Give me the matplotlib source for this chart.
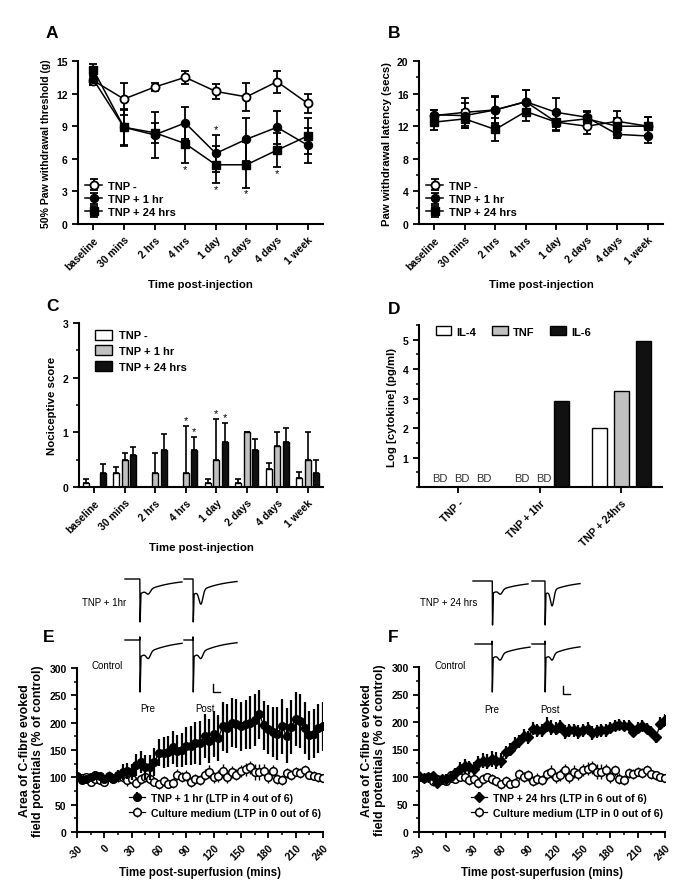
import numpy as np
import matplotlib
matplotlib.use("Agg")
import matplotlib.pyplot as plt
from matplotlib.ticker import MultipleLocator

plt.rcParams['font.family'] = ['Liberation Sans', 'DejaVu Sans']
plt.rcParams['font.weight'] = 'bold'
plt.rcParams['axes.labelweight'] = 'bold'
plt.rcParams['axes.linewidth'] = 1.5
plt.rcParams['xtick.major.width'] = 1.3
plt.rcParams['ytick.major.width'] = 1.3
plt.rcParams['xtick.minor.width'] = 1.1
plt.rcParams['ytick.minor.width'] = 1.1

# ---------------- data ----------------
timepoints = ['baseline', '30 mins', '2 hrs', '4 hrs', '1 day', '2 days', '4 days', '1 week']

a_tnp_minus = [13.2, 11.5, 12.6, 13.5, 12.2, 11.7, 13.1, 11.1]
a_tnp_minus_err = [0.4, 1.5, 0.4, 0.6, 0.7, 1.3, 1.0, 0.9]
a_tnp_1hr = [13.3, 8.9, 8.2, 9.3, 6.5, 7.8, 8.9, 7.25]
a_tnp_1hr_err = [0.5, 1.6, 2.1, 1.5, 1.7, 2.0, 1.5, 1.6]
a_tnp_24 = [14.2, 8.9, 8.4, 7.4, 5.45, 5.45, 6.8, 8.1]
a_tnp_24_err = [0.5, 1.7, 0.9, 1.8, 1.7, 2.1, 1.6, 1.7]

b_tnp_minus = [13.3, 13.7, 14.0, 15.0, 12.5, 12.0, 12.6, 12.0]
b_tnp_minus_err = [0.7, 1.7, 1.6, 1.5, 1.0, 0.9, 1.3, 1.1]
b_tnp_1hr = [13.4, 13.3, 14.0, 15.0, 13.7, 13.1, 11.0, 10.8]
b_tnp_1hr_err = [0.6, 1.5, 1.7, 1.5, 1.8, 0.8, 0.5, 0.9]
b_tnp_24 = [12.5, 12.9, 11.6, 13.8, 12.5, 12.9, 12.0, 12.0]
b_tnp_24_err = [1.0, 1.1, 1.4, 1.2, 1.1, 0.8, 1.0, 1.1]

c_tnp_minus = [0.08, 0.25, 0.0, 0.0, 0.08, 0.08, 0.33, 0.17]
c_tnp_minus_err = [0.07, 0.11, 0.0, 0.0, 0.07, 0.07, 0.10, 0.10]
c_tnp_1hr = [0.0, 0.5, 0.25, 0.25, 0.5, 1.0, 0.75, 0.5]
c_tnp_1hr_err = [0.0, 0.12, 0.37, 0.87, 0.75, 0.0, 0.25, 0.5]
c_tnp_24 = [0.25, 0.58, 0.67, 0.67, 0.83, 0.67, 0.83, 0.25]
c_tnp_24_err = [0.17, 0.15, 0.30, 0.25, 0.34, 0.21, 0.25, 0.25]

d_groups = ['TNP -', 'TNP + 1hr', 'TNP + 24hrs']
d_il4 = [np.nan, np.nan, 2.0]
d_tnf = [np.nan, np.nan, 3.27]
d_il6 = [np.nan, 2.93, 4.94]

ltp_time = list(range(-30, 245, 5))
e_tnp_1hr = [103, 95, 97, 100, 105, 102, 97,
             100, 98, 104, 110, 112, 110,
             122, 128, 118, 118, 128,
             145, 145, 147, 155, 148, 150,
             157, 158, 163, 163, 175, 167,
             180, 172, 193, 190, 200, 198,
             193, 197, 200, 205, 215, 195,
             188, 183, 180, 193, 176, 192,
             207, 203, 190, 177, 180, 190, 193]
e_tnp_1hr_err = [5, 5, 6, 6, 6, 6, 6,
                 8, 8, 10, 15, 15, 15,
                 20, 20, 22, 22, 25,
                 25, 28, 28, 30, 30, 32,
                 35, 35, 38, 40, 40, 40,
                 42, 42, 45, 45, 45, 45,
                 45, 45, 48, 48, 45, 45,
                 45, 45, 48, 50, 50, 50,
                 50, 50, 48, 45, 45, 45, 45]
culture = [100, 98, 100, 92, 97, 95, 92,
           103, 97, 100, 100, 95, 97,
           90, 97, 100, 97, 92,
           87, 93, 88, 90, 105, 100,
           103, 92, 97, 95, 105, 110,
           100, 103, 112, 100, 110, 105,
           112, 115, 118, 110, 110, 112,
           100, 112, 97, 95, 108, 105,
           110, 108, 113, 105, 103, 100, 98]
culture_err = [6, 7, 6, 8, 7, 8, 7,
               8, 7, 8, 9, 10, 9,
               10, 9, 8, 9, 8,
               8, 9, 8, 9, 10, 9,
               10, 9, 10, 9, 10, 12,
               10, 11, 12, 10, 11, 10,
               11, 12, 12, 14, 14, 12,
               11, 10, 10, 9, 9, 9,
               8, 9, 9, 8, 8, 8, 8]
f_tnp_24 = [102, 98, 100, 102, 90, 97, 97,
            100, 107, 115, 120, 118, 115,
            125, 130, 128, 133, 130,
            130, 145, 150, 160, 165, 175,
            172, 188, 185, 185, 195, 190,
            188, 192, 182, 185, 185, 182,
            185, 188, 180, 183, 185, 185,
            190, 193, 195, 193, 193, 182,
            190, 193, 188, 182, 172, 197, 203]
f_tnp_24_err = [6, 6, 6, 7, 7, 7, 8,
                9, 10, 12, 12, 12, 12,
                14, 14, 14, 15, 15,
                14, 12, 12, 12, 12, 12,
                12, 12, 12, 12, 14, 14,
                12, 12, 12, 12, 12, 12,
                12, 12, 12, 12, 12, 12,
                10, 10, 10, 10, 10, 10,
                10, 10, 10, 10, 10, 12, 12]

# ---------------- figure ----------------
W, H = 685, 895
fig = plt.figure(figsize=(W / 100, H / 100), dpi=100)


def px_axes(l, t, r, b):
    return fig.add_axes([l / W, 1 - b / H, (r - l) / W, (b - t) / H])


def style(ax):
    for s in ['top', 'right']:
        ax.spines[s].set_visible(False)
    ax.tick_params(labelsize=7.5, length=4, direction='out')
    ax.tick_params(which='minor', length=2.5)
    for lab in ax.get_xticklabels() + ax.get_yticklabels():
        lab.set_fontweight('bold')


TICK_FS = 7.5
LAB_FS = 8.2
LEG_FS = 8
x = np.arange(len(timepoints))
ebkw = dict(capsize=3, elinewidth=1.3, capthick=1.3, lw=1.1, color='black')


def line_panel(ax, m, mu, o, ou, s, su, ylim, ystep, ylabel, legloc, ylab_fs):
    ax.errorbar(x, o, yerr=ou, marker='o', mfc='white', mec='black', mew=1.3, ms=5.8, label='TNP -', **ebkw)
    ax.errorbar(x, m, yerr=mu, marker='o', mfc='black', mec='black', ms=5.8, label='TNP + 1 hr', **ebkw)
    ax.errorbar(x, s, yerr=su, marker='s', mfc='black', mec='black', ms=5.6, label='TNP + 24 hrs', **ebkw)
    ax.set_xlim(-0.5, 7.5)
    ax.set_ylim(*ylim)
    ax.yaxis.set_major_locator(MultipleLocator(ystep))
    ax.set_xticks(x)
    ax.set_xticklabels(timepoints, rotation=45, ha='right', rotation_mode='anchor', fontsize=TICK_FS, fontweight='bold')
    ax.set_ylabel(ylabel, fontsize=ylab_fs, fontweight='bold')
    ax.set_xlabel('Time post-injection', fontsize=LAB_FS, fontweight='bold', labelpad=6)
    style(ax)
    leg = ax.legend(loc=legloc, frameon=False, fontsize=LEG_FS, handlelength=1.6, handletextpad=0.5,
                    labelspacing=0.3, borderaxespad=0.2)
    for t in leg.get_texts():
        t.set_fontweight('bold')


# Panel A
axA = px_axes(78, 62, 323, 225)
line_panel(axA, a_tnp_1hr, a_tnp_1hr_err, a_tnp_minus, a_tnp_minus_err, a_tnp_24, a_tnp_24_err,
           (0, 15), 3, '50% Paw withdrawal threshold (g)', 'lower left', 7.6)
for i in [3, 4, 5, 6]:
    axA.text(x[i], a_tnp_24[i] - a_tnp_24_err[i] - 0.55, '*', ha='center', va='center', fontsize=8, fontweight='normal')
axA.text(x[4], a_tnp_1hr[4] + a_tnp_1hr_err[4] + 0.55, '*', ha='center', va='center', fontsize=8, fontweight='normal')

# Panel B
axB = px_axes(419, 62, 663, 225)
line_panel(axB, b_tnp_1hr, b_tnp_1hr_err, b_tnp_minus, b_tnp_minus_err, b_tnp_24, b_tnp_24_err,
           (0, 20), 4, 'Paw withdrawal latency (secs)', 'lower left', 8.2)
axB.yaxis.set_minor_locator(MultipleLocator(2))

# Panel C
axC = px_axes(79, 324, 323, 488)
bw = 0.2
off = 0.28
bkw = dict(edgecolor='black', linewidth=1.0, error_kw=dict(elinewidth=1.2, capsize=2.5, capthick=1.2))
zeros = [0] * len(x)
axC.bar(x - off, c_tnp_minus, bw, yerr=[zeros, c_tnp_minus_err], color='white', label='TNP -', **bkw)
axC.bar(x, c_tnp_1hr, bw, yerr=[zeros, c_tnp_1hr_err], color='#c0c0c0', label='TNP + 1 hr', **bkw)
axC.bar(x + off, c_tnp_24, bw, yerr=[zeros, c_tnp_24_err], color='#111111', label='TNP + 24 hrs', **bkw)
axC.set_xlim(-0.5, 7.5)
axC.set_ylim(0, 3)
axC.yaxis.set_major_locator(MultipleLocator(1))
axC.yaxis.set_minor_locator(MultipleLocator(0.5))
axC.set_xticks(x)
axC.set_xticklabels(timepoints, rotation=45, ha='right', rotation_mode='anchor', fontsize=TICK_FS, fontweight='bold')
axC.set_ylabel('Nociceptive score', fontsize=LAB_FS, fontweight='bold')
axC.set_xlabel('Time post-injection', fontsize=LAB_FS, fontweight='bold', labelpad=6)
style(axC)
for xi, yi in [(x[3], c_tnp_1hr[3] + c_tnp_1hr_err[3]), (x[4], c_tnp_1hr[4] + c_tnp_1hr_err[4])]:
    axC.text(xi, yi + 0.1, '*', ha='center', va='center', fontsize=8, fontweight='normal')
for xi, yi in [(x[3] + off, c_tnp_24[3] + c_tnp_24_err[3]), (x[4] + off, c_tnp_24[4] + c_tnp_24_err[4])]:
    axC.text(xi, yi + 0.1, '*', ha='center', va='center', fontsize=8, fontweight='normal')
legC = axC.legend(loc='upper left', frameon=False, fontsize=LEG_FS, handlelength=1.5, handleheight=1.0,
                  handletextpad=0.6, labelspacing=0.45, borderaxespad=0.2, bbox_to_anchor=(0.04, 1.0))
for t in legC.get_texts():
    t.set_fontweight('bold')

# Panel D
axD = px_axes(419, 326, 662, 488)
xd = np.arange(len(d_groups))
bwd = 0.185
offd = 0.27
axD.bar(xd - offd, d_il4, bwd, color='white', edgecolor='black', linewidth=1.0, label='IL-4')
axD.bar(xd, d_tnf, bwd, color='#c0c0c0', edgecolor='black', linewidth=1.0, label='TNF')
axD.bar(xd + offd, d_il6, bwd, color='#111111', edgecolor='black', linewidth=1.0, label='IL-6')
for series, o in [(d_il4, -offd), (d_tnf, 0), (d_il6, offd)]:
    for i, v in enumerate(series):
        if np.isnan(v):
            axD.text(xd[i] + o + 0.05, 0.3, 'BD', ha='center', va='center', fontsize=8, fontweight='normal', color='#333333')
axD.set_xlim(-0.48, 2.5)
axD.set_ylim(0, 5.5)
axD.set_yticks([1, 2, 3, 4, 5])
axD.yaxis.set_minor_locator(MultipleLocator(0.5))
axD.set_xticks(xd)
axD.set_xticklabels(d_groups, rotation=45, ha='right', rotation_mode='anchor', fontsize=7, fontweight='bold')
axD.set_ylabel('Log [cytokine] (pg/ml)', fontsize=LAB_FS, fontweight='bold')
style(axD)
legD = axD.legend(loc='upper left', ncol=3, frameon=False, fontsize=LEG_FS, handlelength=1.4, handleheight=0.9,
                  handletextpad=0.5, columnspacing=1.4, borderaxespad=0.0, bbox_to_anchor=(0.05, 1.02))
for t in legD.get_texts():
    t.set_fontweight('bold')


# Panels E, F
def ltp_panel(ax, series, err, marker, label, ms):
    ax.errorbar(ltp_time, culture, yerr=culture_err, marker='o', mfc='white', mec='black', mew=1.1, ms=5.5,
                color='black', lw=0.9, elinewidth=1.0, capsize=0, label='Culture medium (LTP in 0 out of 6)', zorder=2)
    ax.errorbar(ltp_time, series, yerr=err, marker=marker, mfc='black', mec='black', ms=ms,
                color='black', lw=0.9, elinewidth=1.6, capsize=0, label=label, zorder=3)
    ax.set_xlim(-30, 240)
    ax.set_ylim(0, 300)
    ax.xaxis.set_minor_locator(MultipleLocator(15))
    ax.yaxis.set_major_locator(MultipleLocator(50))
    ax.yaxis.set_minor_locator(MultipleLocator(25))
    ax.set_xticks(range(-30, 241, 30))
    ax.set_xticklabels([str(v) for v in range(-30, 241, 30)], rotation=45, ha='right', rotation_mode='anchor',
                       fontsize=TICK_FS, fontweight='bold')
    ax.set_ylabel('Area of C-fibre evoked\nfield potentials (% of control)', fontsize=8.9, fontweight='bold',
                  linespacing=1.1)
    ax.set_xlabel('Time post-superfusion (mins)', fontsize=8.3, fontweight='bold', labelpad=3)
    style(ax)
    h, l = ax.get_legend_handles_labels()
    leg = ax.legend(h[::-1], l[::-1], loc='lower center', frameon=False, fontsize=7.6, handlelength=1.6,
                    handletextpad=0.5, labelspacing=0.45, bbox_to_anchor=(0.6, 0.03))
    for t in leg.get_texts():
        t.set_fontweight('bold')


axE = px_axes(77, 669, 323, 833)
ltp_panel(axE, e_tnp_1hr, e_tnp_1hr_err, 'o', 'TNP + 1 hr (LTP in 4 out of 6)', 5.5)
axF = px_axes(419, 668, 665, 833)
ltp_panel(axF, f_tnp_24, f_tnp_24_err, 'D', 'TNP + 24 hrs (LTP in 6 out of 6)', 4.8)

# ---------------- overlay (panel letters, trace insets) ----------------
ov = fig.add_axes([0, 0, 1, 1], facecolor='none')
ov.set_xlim(0, W)
ov.set_ylim(H, 0)
ov.axis('off')

for lab, (lx, ly) in {'A': (46, 33), 'B': (388, 33), 'C': (46, 306), 'D': (388, 309),
                      'E': (43, 638), 'F': (388, 638)}.items():
    ov.text(lx, ly, lab, fontsize=12.5, fontweight='bold', ha='left', va='center')


def trace(x0, y0, w, h, ts, rec, dip, tick=0.0):
    t = np.linspace(0, 1, 300)
    y = np.zeros_like(t)
    after = t > ts + 0.02
    y[after] = rec * np.exp(-(t[after] - ts) / 0.45) + dip * np.exp(-((t[after] - ts - 0.15) / 0.05) ** 2)
    pre = t <= ts
    xs = np.concatenate([x0 + t[pre] * w, [x0 + ts * w, x0 + ts * w, x0 + (ts + 0.005) * w, x0 + (ts + 0.02) * w],
                         x0 + t[after] * w])
    ys = np.concatenate([y0 + y[pre] * h, [y0 - tick * h, y0 - tick * h, y0 + h, y0 + rec * h],
                         y0 + y[after] * h])
    ov.plot(xs, ys, color='black', lw=1.0)


# E insets
trace(125, 580, 57, 43, 0.26, 0.35, 0.10)
trace(184, 580, 53, 43, 0.17, 0.37, 0.32)
trace(125, 641, 57, 52, 0.26, 0.33, 0.12, tick=0.06)
trace(184, 641, 53, 52, 0.17, 0.33, 0.12, tick=0.06)
ov.text(82, 603, 'TNP + 1hr', fontsize=7, fontweight='normal', va='center')
ov.text(92, 666, 'Control', fontsize=7, fontweight='normal', va='center')
ov.text(148, 709, 'Pre', fontsize=7, fontweight='normal', va='center', ha='center')
ov.text(205, 709, 'Post', fontsize=7, fontweight='normal', va='center', ha='center')
ov.plot([213, 213, 220], [685, 693, 693], color='black', lw=1.0)

# F insets
trace(473, 582, 55, 44, 0.35, 0.28, 0.10)
trace(532, 582, 48, 44, 0.27, 0.30, 0.35)
trace(475, 645, 55, 48, 0.31, 0.30, 0.12, tick=0.06)
trace(532, 645, 48, 48, 0.27, 0.30, 0.12, tick=0.06)
ov.text(420, 603, 'TNP + 24 hrs', fontsize=7, fontweight='normal', va='center')
ov.text(435, 666, 'Control', fontsize=7, fontweight='normal', va='center')
ov.text(492, 710, 'Pre', fontsize=7, fontweight='normal', va='center', ha='center')
ov.text(550, 710, 'Post', fontsize=7, fontweight='normal', va='center', ha='center')
ov.plot([563, 563, 570], [687, 695, 695], color='black', lw=1.0)

fig.savefig('out.png', dpi=100)
